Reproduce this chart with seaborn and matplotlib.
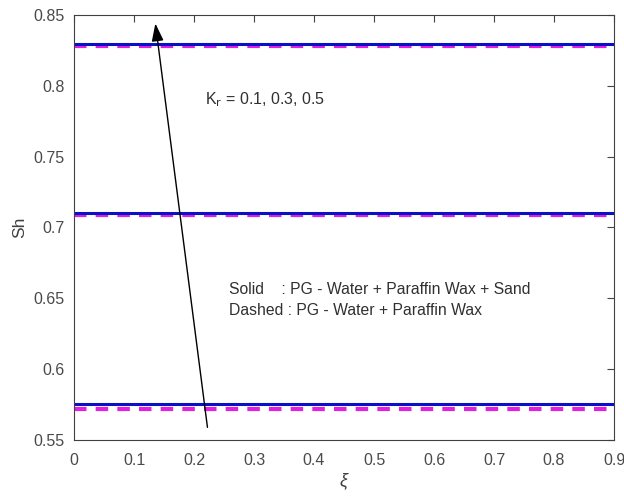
import matplotlib
matplotlib.use("Agg")
import matplotlib.pyplot as plt
import seaborn as sns
import pandas as pd
import numpy as np

sns.set_theme(style="white")
plt.rcParams['font.family'] = ['Liberation Sans', 'DejaVu Sans']

xi = [0.0, 0.1, 0.2, 0.3, 0.4, 0.5, 0.6, 0.7, 0.8, 0.9]
kr_values = [0.1, 0.3, 0.5]
sh_solid = [0.5752, 0.7102, 0.8292]   # PG-Water + Paraffin Wax + Sand
sh_dashed = [0.5718, 0.7088, 0.8278]  # PG-Water + Paraffin Wax

rows = []
for kr, s, d in zip(kr_values, sh_solid, sh_dashed):
    for x in xi:
        rows.append({"xi": x, "Sh": d, "Kr": kr, "fluid": "dashed"})
        rows.append({"xi": x, "Sh": s, "Kr": kr, "fluid": "solid"})
df = pd.DataFrame(rows)

fig = plt.figure(figsize=(6.24, 4.96), dpi=100)
ax = fig.add_axes([0.1186, 0.1129, 0.8654, 0.8569])

for kr in kr_values:
    sub = df[(df.Kr == kr) & (df.fluid == "dashed")]
    sns.lineplot(data=sub, x="xi", y="Sh", ax=ax, color="#e020e0", lw=3,
                 linestyle=(0, (3, 2.2)), legend=False)
for kr in kr_values:
    sub = df[(df.Kr == kr) & (df.fluid == "solid")]
    sns.lineplot(data=sub, x="xi", y="Sh", ax=ax, color="#0a10c8", lw=2.2,
                 legend=False)

ax.set_xlim(0, 0.9)
ax.set_ylim(0.55, 0.85)
ax.set_xticks(np.arange(0, 0.91, 0.1))
ax.set_xticklabels(["0", "0.1", "0.2", "0.3", "0.4", "0.5", "0.6", "0.7", "0.8", "0.9"])
ax.set_yticks([0.55, 0.6, 0.65, 0.7, 0.75, 0.8, 0.85])
ax.set_yticklabels(["0.55", "0.6", "0.65", "0.7", "0.75", "0.8", "0.85"])
ax.tick_params(direction="in", top=True, right=True, length=5, width=0.8,
               colors="#454545", labelsize=11.5, labelcolor="#4a4a4a")
ax.tick_params(axis="x", pad=9)
ax.tick_params(axis="y", pad=7)
for sp in ax.spines.values():
    sp.set_color("#404040")
    sp.set_linewidth(0.8)

ax.set_xlabel("ξ", fontsize=13, color="#404040", labelpad=3, style="italic")
ax.set_ylabel("Sh", fontsize=12.5, color="#404040", labelpad=4)

ax.annotate("", xy=(0.135, 0.846), xytext=(0.223, 0.557),
            arrowprops=dict(arrowstyle="-|>,head_length=0.9,head_width=0.3",
                            color="black", lw=1))
ax.text(0.218, 0.790, r"K$_{\mathrm{r}}$ = 0.1, 0.3, 0.5", fontsize=11.5, color="#303030",
        va="center", ha="left")
ax.text(0.258, 0.6565, "Solid    : PG - Water + Paraffin Wax + Sand", fontsize=11.3,
        color="#303030", va="center", ha="left")
ax.text(0.258, 0.6415, "Dashed : PG - Water + Paraffin Wax", fontsize=11.3,
        color="#303030", va="center", ha="left")

fig.savefig("out.png", dpi=100)
